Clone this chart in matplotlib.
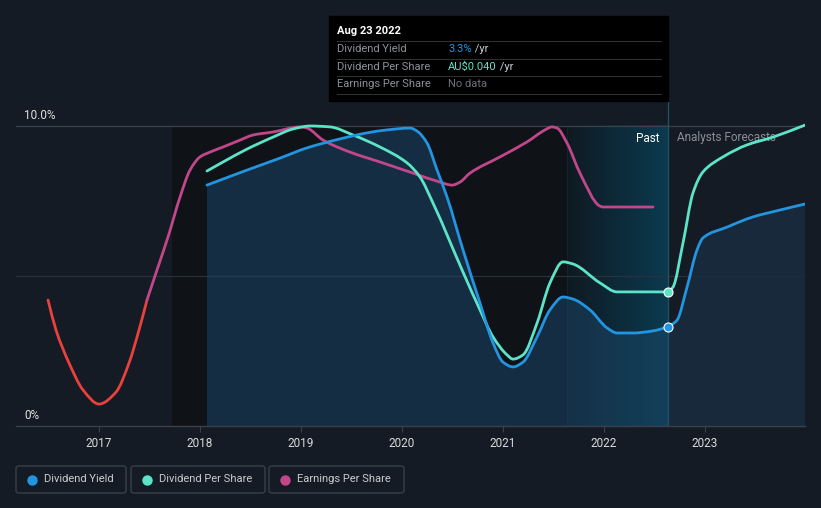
import numpy as np
import matplotlib
matplotlib.use("Agg")
import matplotlib.pyplot as plt
from matplotlib.patches import Rectangle, FancyBboxPatch, PathPatch
from matplotlib.path import Path
from matplotlib.colors import LinearSegmentedColormap

plt.rcParams['font.family'] = ['Roboto', 'DejaVu Sans']

# ---- data (percent of max) ----
eps_red_x = [2016.495, 2016.574, 2016.703, 2016.842, 2017.0, 2017.168, 2017.297, 2017.396, 2017.475]
eps_red_y = [4.20, 3.20, 2.10, 1.20, 0.73, 1.13, 2.10, 3.20, 4.20]

eps_x = [2017.475, 2017.574, 2017.683, 2017.802, 2017.901, 2018.0, 2018.099, 2018.228, 2018.396,
         2018.525, 2018.723, 2018.990, 2019.059, 2019.218, 2019.485, 2019.782, 2020.109, 2020.376,
         2020.495, 2020.574, 2020.673, 2020.970, 2021.238, 2021.416, 2021.485, 2021.535, 2021.634,
         2021.762, 2021.960, 2021.990, 2022.485]
eps_y = [4.20, 5.20, 6.30, 7.63, 8.53, 8.97, 9.13, 9.30, 9.53,
         9.70, 9.80, 9.97, 9.93, 9.53, 9.13, 8.80, 8.43, 8.13,
         8.03, 8.13, 8.43, 8.97, 9.47, 9.87, 9.97, 9.93, 9.43,
         8.43, 7.33, 7.30, 7.30]

dps_x = [2018.069, 2018.228, 2018.465, 2018.723, 2018.921, 2019.089, 2019.287, 2019.515, 2019.782,
         2020.050, 2020.178, 2020.307, 2020.604, 2020.772, 2020.901, 2021.040, 2021.099,
         2021.198, 2021.337, 2021.465, 2021.594, 2021.693, 2021.960, 2022.129, 2022.634]
dps_y = [8.50, 8.80, 9.23, 9.63, 9.90, 10.0, 9.97, 9.70, 9.30,
         8.77, 8.30, 7.43, 5.13, 3.87, 2.97, 2.37, 2.23,
         2.37, 3.43, 4.77, 5.47, 5.40, 4.77, 4.47, 4.47]
dps_fc_x = [2022.634, 2022.683, 2022.782, 2022.881, 2022.980, 2023.178, 2023.416, 2023.673, 2023.990]
dps_fc_y = [4.47, 4.63, 6.10, 7.77, 8.47, 8.97, 9.37, 9.63, 10.03]

dy_x = [2018.069, 2018.465, 2018.792, 2019.059, 2019.386, 2019.653, 2019.851, 2020.079, 2020.149,
        2020.248, 2020.347, 2020.446, 2020.604, 2020.772, 2020.901, 2021.0, 2021.099,
        2021.198, 2021.337, 2021.465, 2021.594, 2021.693, 2021.861, 2022.030, 2022.129, 2022.287,
        2022.485, 2022.634]
dy_y = [8.03, 8.53, 8.93, 9.27, 9.57, 9.77, 9.87, 9.93, 9.83,
        9.43, 8.53, 7.63, 5.87, 4.10, 2.77, 2.13, 1.97,
        2.13, 2.97, 3.87, 4.30, 4.23, 3.87, 3.27, 3.10, 3.10,
        3.17, 3.30]
dy_fc_x = [2022.634, 2022.723, 2022.822, 2022.921, 2022.980, 2023.218, 2023.475, 2023.743, 2023.990]
dy_fc_y = [3.30, 3.53, 4.63, 5.87, 6.27, 6.63, 6.97, 7.20, 7.40]

years = [2017, 2018, 2019, 2020, 2021, 2022, 2023]
now_x = 2022.634
band_start = 2021.634

BG = '#151b24'
BLUE = '#2394df'
TEAL = '#5de3c8'
MAG = '#c2478a'
RED = '#e8413e'


def monotone_path(xs, ys, close_to=None):
    """Smooth path through the points (monotone cubic, like d3.curveMonotoneX)."""
    x = np.asarray(xs, float)
    y = np.asarray(ys, float)
    n = len(x)
    h = np.diff(x)
    d = np.diff(y) / h
    m = np.zeros(n)
    m[0], m[-1] = d[0], d[-1]
    for i in range(1, n - 1):
        if d[i - 1] * d[i] <= 0:
            m[i] = 0
        else:
            m[i] = 3 * (h[i - 1] + h[i]) / ((2 * h[i] + h[i - 1]) / d[i - 1] + (h[i] + 2 * h[i - 1]) / d[i])
    verts = [(x[0], y[0])]
    codes = [Path.MOVETO]
    for i in range(n - 1):
        verts += [(x[i] + h[i] / 3, y[i] + m[i] * h[i] / 3),
                  (x[i + 1] - h[i] / 3, y[i + 1] - m[i + 1] * h[i] / 3),
                  (x[i + 1], y[i + 1])]
        codes += [Path.CURVE4] * 3
    if close_to is not None:
        verts += [(x[-1], close_to), (x[0], close_to), (x[0], y[0])]
        codes += [Path.LINETO, Path.LINETO, Path.CLOSEPOLY]
    return Path(verts, codes)


def smooth_line(ax, xs, ys, color, lw, z):
    ax.add_patch(PathPatch(monotone_path(xs, ys), fc='none', ec=color, lw=lw, zorder=z,
                           capstyle='round'))


W, H = 821, 508
fig = plt.figure(figsize=(W / 100, H / 100), dpi=100, facecolor=BG)
ax = fig.add_axes([16 / W, 82 / H, 789 / W, 410 / H])
ax.set_facecolor(BG)
ymax = 410 / 30
x0, x1 = 2016.178, 2023.990
ax.set_xlim(x0, x1)
ax.set_ylim(0, ymax)

# dark "past" area and highlighted last year
ax.axvspan(2017.72, band_start, ymin=0, ymax=10 / ymax, color='#0f1318', zorder=0, lw=0)
grad = np.linspace(0, 1, 256).reshape(1, -1)
cmap = LinearSegmentedColormap.from_list('hl', ['#0f1a22', '#0b3a4f'])
ax.imshow(grad, extent=[band_start, now_x, 0, 10], aspect='auto', cmap=cmap, zorder=0.5,
          interpolation='bilinear')
ax.axvline(band_start, ymax=10 / ymax, color='#10252f', lw=0.8, zorder=0.6)

# grid lines
ax.plot([x0, x1], [10, 10], color='#3b414a', lw=0.9, zorder=1)
ax.plot([x0, x1], [5, 5], color='#2b313a', lw=0.9, zorder=1)

# fill under dividend yield
ax.add_patch(PathPatch(monotone_path(dy_x, dy_y, close_to=0), fc='#1a4465', alpha=0.55,
                       lw=0, zorder=1.5))
ax.add_patch(PathPatch(monotone_path(dy_fc_x, dy_fc_y, close_to=0), fc='#1a2d42', alpha=0.8,
                       lw=0, zorder=1.5))

# now line
ax.plot([now_x, now_x], [0, (426 - 101) / 30], color='#1d5466', lw=0.9, zorder=1.6, clip_on=False)

# lines
lw = 2.0
smooth_line(ax, eps_red_x, eps_red_y, RED, lw, 3)
smooth_line(ax, eps_x, eps_y, MAG, lw, 3)
smooth_line(ax, dps_x, dps_y, TEAL, lw, 4)
smooth_line(ax, dps_fc_x, dps_fc_y, TEAL, lw, 4)
smooth_line(ax, dy_x, dy_y, BLUE, lw, 5)
smooth_line(ax, dy_fc_x, dy_fc_y, BLUE, lw, 5)
ax.plot([now_x], [dps_y[-1]], 'o', ms=6.5, mfc=TEAL, mec='white', mew=0.8, zorder=6)
ax.plot([now_x], [dy_y[-1]], 'o', ms=6.5, mfc=BLUE, mec='white', mew=0.8, zorder=6)

# axes styling
for s in ['top', 'right', 'left']:
    ax.spines[s].set_visible(False)
ax.spines['bottom'].set_color('#3b414a')
ax.spines['bottom'].set_linewidth(1.0)
ax.set_yticks([])
ax.set_xticks(years)
ax.set_xticklabels([str(y) for y in years])
ax.tick_params(axis='x', length=4, width=0.8, color='#3b414a', labelcolor='#d8dadd',
               labelsize=8.5, pad=4)

ax.text(2016.26, 10.13, '10.0%', color='#e0e2e5', fontsize=8.5, va='bottom', ha='left')
ax.text(2016.26, 0.13, '0%', color='#e0e2e5', fontsize=8.5, va='bottom', ha='left')
ax.text(2022.55, 9.6, 'Past', color='#ffffff', fontsize=8.5, va='center', ha='right')
ax.text(2022.72, 9.6, 'Analysts Forecasts', color='#8a8f96', fontsize=8.5, va='center', ha='left')


# tooltip
def fx(px):
    return px / W


def fy(py):
    return 1 - py / H


fig.patches.append(Rectangle((fx(329), fy(101)), fx(668) - fx(329), fy(16) - fy(101),
                             transform=fig.transFigure, color='black', zorder=10))
fig.text(fx(337), fy(31), 'Aug 23 2022', color='white', fontsize=8, fontweight='bold',
         va='center', zorder=11)
for ly in [41, 58.5, 76, 93.5]:
    fig.add_artist(plt.Line2D([fx(337), fx(661)], [fy(ly), fy(ly)], color='#333333', lw=0.7,
                              transform=fig.transFigure, zorder=11))
rows = [('Dividend Yield', '3.3%', BLUE, ' /yr'),
        ('Dividend Per Share', 'AU$0.040', TEAL, ' /yr'),
        ('Earnings Per Share', 'No data', '#6d7278', '')]
for i, (lab, val, col, suf) in enumerate(rows):
    yy = fy(49 + i * 17.7)
    fig.text(fx(337), yy, lab, color='#8d9298', fontsize=8, va='center', zorder=11)
    t = fig.text(fx(448), yy, val, color=col, fontsize=8, va='center', zorder=11)
    if suf:
        fig.canvas.draw()
        bb = t.get_window_extent()
        fig.text(bb.x1 / W, yy, suf, color='#c8ccd0', fontsize=8, va='center', zorder=11)

# legend boxes
legend = [('Dividend Yield', BLUE, 16, 126), ('Dividend Per Share', TEAL, 131, 265),
          ('Earnings Per Share', MAG, 269, 404)]
for lab, col, bx0, bx1 in legend:
    fig.patches.append(FancyBboxPatch((fx(bx0), fy(493)), fx(bx1) - fx(bx0), fy(466) - fy(493),
                                      boxstyle='round,pad=0,rounding_size=0.004',
                                      transform=fig.transFigure, fc=BG, ec='#3d434b', lw=0.9))
    fig.add_artist(plt.Line2D([fx(bx0 + 16)], [fy(479.5)], marker='o', ms=6.5, color=col,
                              mec=col, transform=fig.transFigure))
    fig.text(fx(bx0 + 28), fy(479.5), lab, color='#c8ccd0', fontsize=8, va='center')

fig.savefig('out.png', dpi=100, facecolor=BG)
